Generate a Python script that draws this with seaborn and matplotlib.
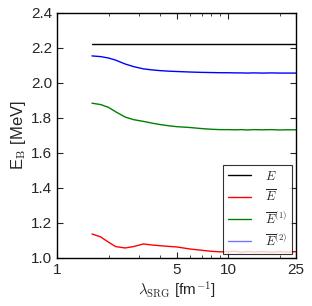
import numpy as np
import pandas as pd
import seaborn as sns
import matplotlib.pyplot as plt
from matplotlib.ticker import FixedLocator, FixedFormatter, LogLocator, NullFormatter

sns.set_style("ticks")
plt.rcParams['font.family'] = ['Liberation Sans', 'DejaVu Sans']
plt.rcParams['mathtext.fontset'] = 'cm'

# SRG flow parameter [fm^-1]
lam = [1.6, 1.8, 2.0, 2.2, 2.5, 2.8, 3.2, 3.6, 4.0, 4.5, 5.0, 6.0, 7.0,
       8.0, 9.0, 10, 11, 12, 13, 14, 16, 18, 20, 22, 25]

e_exact = [2.224] * len(lam)
e_bar = [1.137, 1.120, 1.090, 1.065, 1.057, 1.065, 1.080, 1.074, 1.070,
         1.066, 1.063, 1.051, 1.044, 1.038, 1.035, 1.036, 1.038, 1.032,
         1.037, 1.034, 1.036, 1.033, 1.036, 1.034, 1.036]
e_bar1 = [1.884, 1.876, 1.860, 1.835, 1.805, 1.790, 1.780, 1.770, 1.762,
          1.755, 1.750, 1.745, 1.739, 1.735, 1.733, 1.733, 1.732, 1.733,
          1.731, 1.733, 1.732, 1.733, 1.731, 1.732, 1.732]
e_bar2 = [2.154, 2.150, 2.142, 2.130, 2.108, 2.093, 2.080, 2.074, 2.070,
          2.067, 2.065, 2.062, 2.060, 2.059, 2.058, 2.058, 2.057, 2.057,
          2.056, 2.057, 2.056, 2.057, 2.056, 2.056, 2.056]

labels = [r'$E$', r'$\overline{E}$', r'$\overline{E}^{(1)}$', r'$\overline{E}^{(2)}$']
colors = ['black', 'red', 'green', 'blue']

fig = plt.figure(figsize=(3.12, 3.06), dpi=100)
ax = fig.add_axes([0.183, 0.157, 0.766, 0.801])

for ys, lab, c in zip([e_exact, e_bar, e_bar1, e_bar2], labels, colors):
    sns.lineplot(x=lam, y=ys, color=c, label=lab, lw=1, ax=ax)

ax.set_xscale('log')
ax.set_xlim(1, 25)
ax.set_ylim(1.0, 2.4)
ax.xaxis.set_major_locator(FixedLocator([1, 5, 10, 25]))
ax.xaxis.set_major_formatter(FixedFormatter(['1', '5', '10', '25']))
ax.xaxis.set_minor_locator(LogLocator(base=10, subs=np.arange(2, 10)))
ax.xaxis.set_minor_formatter(NullFormatter())
ax.set_yticks(np.arange(1.0, 2.41, 0.2))
ax.set_yticklabels([f'{v:.1f}' for v in np.arange(1.0, 2.41, 0.2)])
ax.tick_params(which='both', direction='in', top=True, right=True, labelsize=11)
ax.tick_params(which='major', length=4)
ax.tick_params(which='minor', length=2)
for s in ax.spines.values():
    s.set_color('black')
    s.set_linewidth(1)

ax.set_xlabel(r'$\lambda_{\rm SRG}$ [fm$^{-1}$]', fontsize=11, labelpad=2)
ax.set_ylabel(r'E$_{\rm B}$ [MeV]', fontsize=12, labelpad=2)

leg = ax.legend(loc='lower right', fontsize=9, frameon=True, fancybox=False,
                handlelength=1.8, borderaxespad=0.35, labelspacing=0.5,
                handletextpad=1.1, borderpad=0.4)
leg.get_frame().set_edgecolor('black')
leg.get_frame().set_linewidth(0.8)
leg.legend_handles[3].set_alpha(0.55)

fig.savefig('out.png', dpi=100)
